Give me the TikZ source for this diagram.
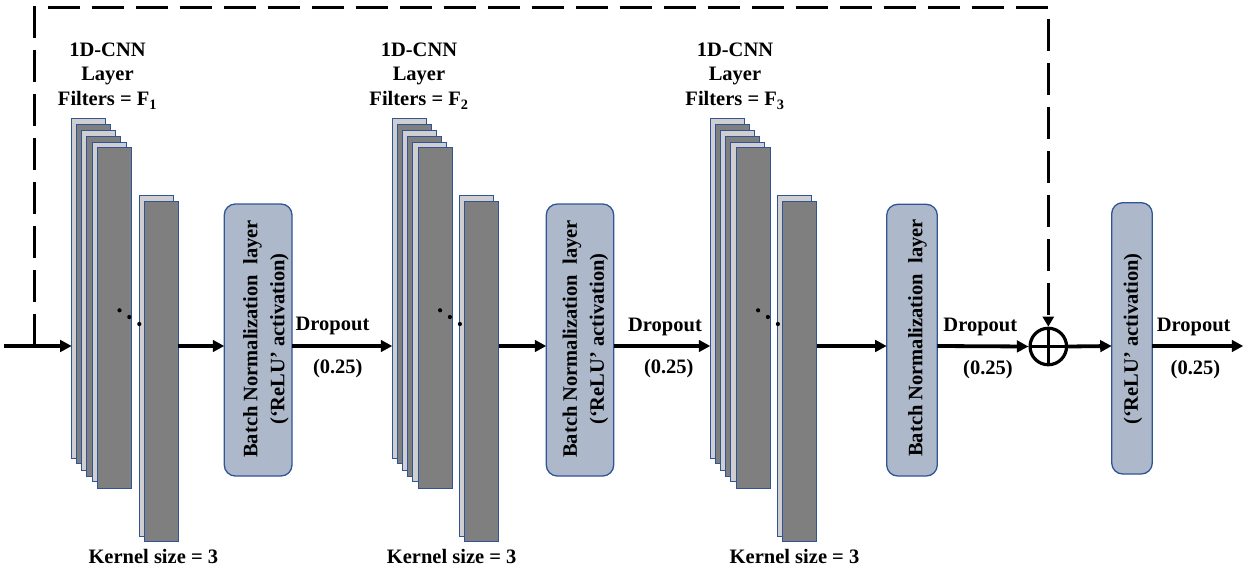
\documentclass[tikz,border=0pt]{standalone}
\usepackage{fontspec}
\setmainfont{Liberation Serif}
\usetikzlibrary{arrows.meta}
\definecolor{lgray}{HTML}{D0CECE}
\definecolor{dgray}{HTML}{7F7F7F}
\definecolor{bord}{HTML}{2F5597}
\definecolor{bnfill}{HTML}{ADB9CA}
\tikzset{
 txt/.style={font=\bfseries\fontsize{20.5}{25}\selectfont, inner sep=0pt, align=center},
 rtxt/.style={font=\bfseries\fontsize{20.5}{27}\selectfont, inner sep=0pt, align=center, rotate=90},
 filt/.style={draw=bord, line width=1pt, inner sep=0pt, outer sep=0pt, minimum width=34pt, anchor=north west},
 fl/.style={filt, fill=lgray},
 fd/.style={filt, fill=dgray},
 bnbox/.style={draw=bord, line width=1.3pt, fill=bnfill, rounded corners=11pt, inner sep=0pt, outer sep=0pt, anchor=north west},
 arr/.style={line width=3.8pt, -{Triangle[length=11.5pt,width=11.5pt]}},
 dashline/.style={line width=3.5pt, dash pattern=on 32pt off 12pt, -{Triangle[length=10pt,width=11pt]}},
}
\begin{document}
\begin{tikzpicture}[x=1pt,y=-1pt]
\useasboundingbox (0,0) rectangle (1259,578);
\coordinate (ax) at (0,346);
\coordinate (in) at (4,346);
\coordinate (split) at (34.3,346);
\coordinate (tl) at (34.3,7.5);
\coordinate (out) at (1243.3,346);
% filter stacks
\foreach \i/\b in {1/71.7, 2/392.3, 3/710.3} {
  \node[fl, minimum height=340pt] (b\i r1) at (\b,118.3) {};
  \node[fd, minimum height=339pt] (b\i r2) at (\b+5,124.3) {};
  \node[fl, minimum height=340pt] (b\i r3) at (\b+9.8,130.3) {};
  \node[fd, minimum height=340pt] (b\i r4) at (\b+14.8,136.1) {};
  \node[fl, minimum height=339.5pt] (b\i r5) at (\b+20.6,142.2) {};
  \node[fd, minimum height=341pt] (b\i r6) at (\b+25.7,147.4) {};
  \node[fl, minimum height=341.4pt] (b\i k1) at (\b+67.6,195.3) {};
  \node[fd, minimum height=340.4pt] (b\i k2) at (\b+72.6,201.3) {};
  \fill (\b+47.8,310.3) circle (2.1pt);
  \fill (\b+57.6,317) circle (2.1pt);
  \fill (\b+67.6,324) circle (2.1pt);
}
% batch-norm and activation boxes
\node[bnbox, minimum width=67.7pt, minimum height=272pt] (bn1) at (224.3,204) {};
\node[bnbox, minimum width=67.4pt, minimum height=272pt] (bn2) at (546.3,204) {};
\node[bnbox, minimum width=50.6pt, minimum height=271.7pt] (bn3) at (886.7,204.3) {};
\node[bnbox, minimum width=40.6pt, minimum height=271.3pt] (relu) at (1111.7,202.7) {};
\node[rtxt] (bn1t) at (266,339) {Batch Normalization\ \ layer\\(‘ReLU’ activation)};
\node[rtxt] (bn2t) at (585.5,339) {Batch Normalization\ \ layer\\(‘ReLU’ activation)};
\node[rtxt] (bn3t) at (917.5,338) {Batch Normalization\ \ layer};
\node[rtxt] (relut) at (1133,339) {(‘ReLU’ activation)};
% sum node
\node[circle, draw, line width=3.2pt, minimum size=36.5pt, inner sep=0pt,
  path picture={\draw[line width=3pt] (path picture bounding box.north) -- (path picture bounding box.south)
  (path picture bounding box.west) -- (path picture bounding box.east);}] (plus) at (1048.3,346.5) {};
% connectors
\draw[arr] (in) -- (in -| b1r1.west);
\draw[arr] (b1k2.east |- ax) -- (bn1.west |- ax);
\draw[arr] (bn1.east |- ax) -- (b2r1.west |- ax);
\draw[arr] (b2k2.east |- ax) -- (bn2.west |- ax);
\draw[arr] (bn2.east |- ax) -- (b3r1.west |- ax);
\draw[arr] (b3k2.east |- ax) -- (bn3.west |- ax);
\draw[arr] (bn3.east |- ax) -- (plus.west);
\draw[arr] (plus.east) -- (relu.west |- ax);
\draw[arr] (relu.east |- ax) -- (out);
\draw[dashline] (split) -- (tl) -| (plus.north);
% labels
\node[txt, anchor=base] (h1) at (107.5,106) {1D-CNN\\Layer\\Filters = F\textsubscript{1}};
\node[txt, anchor=base] (h2) at (419,106) {1D-CNN\\Layer\\Filters = F\textsubscript{2}};
\node[txt, anchor=base] (h3) at (735,106) {1D-CNN\\Layer\\Filters = F\textsubscript{3}};
\node[txt, anchor=base] (ks1) at (153.3,563.3) {Kernel size = 3};
\node[txt, anchor=base] (ks2) at (451.7,563.3) {Kernel size = 3};
\node[txt, anchor=base] (ks3) at (794.5,563.3) {Kernel size = 3};
\node[txt, anchor=base] (d1) at (332.5,330.7) {Dropout};
\node[txt, anchor=base] (p1) at (337.8,373) {(0.25)};
\node[txt, anchor=base] (d2) at (665,331.5) {Dropout};
\node[txt, anchor=base] (p2) at (668.8,373) {(0.25)};
\node[txt, anchor=base] (d3) at (980.3,331.7) {Dropout};
\node[txt, anchor=base] (p3) at (988,374) {(0.25)};
\node[txt, anchor=base] (d4) at (1193.7,331.7) {Dropout};
\node[txt, anchor=base] (p4) at (1195.5,374) {(0.25)};
\end{tikzpicture}
\end{document}
